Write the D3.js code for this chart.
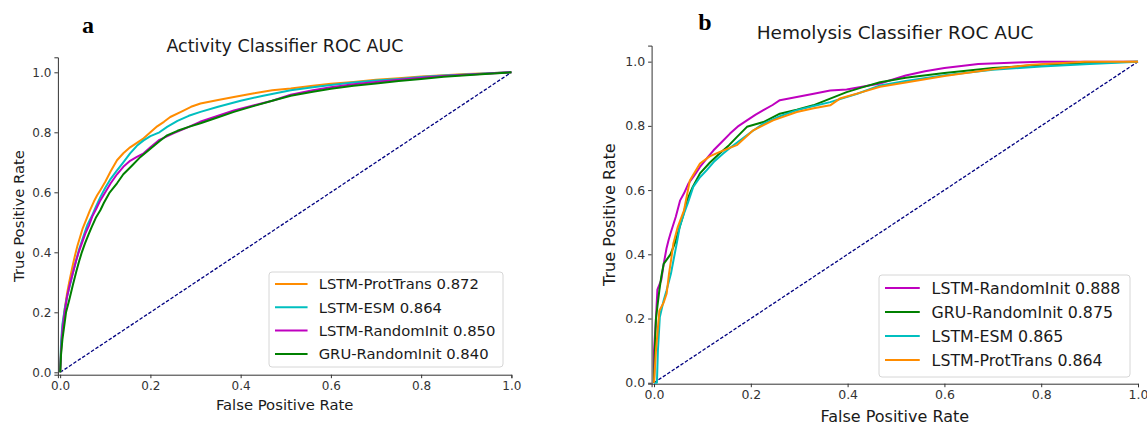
<!DOCTYPE html>
<html>
<head>
<meta charset="utf-8">
<script src="https://cdn.jsdelivr.net/npm/d3@7/dist/d3.min.js"></script>
<style>
  body { margin: 0; background: #fff; }
  svg { display: block; font-family: "DejaVu Sans", sans-serif; }
</style>
</head>
<body>
<div id="chart"></div>
<script>
/* global d3 */

// Tick values shared by both panels
const tickValues = [0, 0.2, 0.4, 0.6, 0.8, 1.0];

// Panel a: Activity classifier (legend order)
const activityNames = ["LSTM-ProtTrans", "LSTM-ESM", "LSTM-RandomInit", "GRU-RandomInit"];
const activityAuc = ["0.872", "0.864", "0.850", "0.840"];

const activityProtTrans = [[0,0],[0.002,0.08],[0.005,0.15],[0.01,0.21],[0.015,0.26],[0.02,0.30],[0.027,0.35],[0.033,0.39],[0.038,0.42],[0.044,0.45],[0.05,0.48],[0.058,0.51],[0.066,0.54],[0.075,0.57],[0.082,0.59],[0.089,0.607],[0.1,0.635],[0.112,0.67],[0.126,0.707],[0.14,0.73],[0.155,0.75],[0.17,0.765],[0.185,0.78],[0.2,0.80],[0.215,0.82],[0.23,0.835],[0.244,0.851],[0.27,0.87],[0.29,0.885],[0.311,0.896],[0.35,0.908],[0.385,0.918],[0.43,0.93],[0.47,0.94],[0.511,0.946],[0.56,0.955],[0.6,0.962],[0.65,0.968],[0.7,0.975],[0.75,0.98],[0.8,0.986],[0.85,0.99],[0.9,0.994],[0.95,0.997],[1,1]];
const activityEsm = [[0,0],[0.002,0.1],[0.005,0.16],[0.01,0.21],[0.015,0.25],[0.02,0.28],[0.028,0.33],[0.035,0.37],[0.042,0.41],[0.052,0.455],[0.06,0.49],[0.07,0.52],[0.08,0.555],[0.089,0.584],[0.1,0.615],[0.112,0.645],[0.126,0.673],[0.14,0.70],[0.155,0.73],[0.17,0.755],[0.185,0.773],[0.2,0.787],[0.22,0.80],[0.237,0.818],[0.26,0.838],[0.285,0.855],[0.311,0.868],[0.35,0.885],[0.4,0.905],[0.45,0.922],[0.511,0.94],[0.56,0.95],[0.6,0.958],[0.65,0.966],[0.7,0.973],[0.75,0.978],[0.8,0.984],[0.85,0.989],[0.9,0.993],[0.95,0.997],[1,1]];
const activityLstmRandom = [[0,0],[0.002,0.07],[0.005,0.14],[0.01,0.2],[0.015,0.25],[0.021,0.29],[0.028,0.33],[0.035,0.37],[0.041,0.40],[0.048,0.43],[0.056,0.463],[0.064,0.49],[0.071,0.519],[0.08,0.545],[0.089,0.573],[0.1,0.6],[0.112,0.63],[0.126,0.66],[0.14,0.685],[0.155,0.705],[0.17,0.718],[0.185,0.73],[0.2,0.75],[0.22,0.775],[0.252,0.797],[0.28,0.815],[0.31,0.835],[0.35,0.855],[0.385,0.873],[0.43,0.89],[0.47,0.905],[0.511,0.925],[0.56,0.94],[0.6,0.95],[0.65,0.96],[0.7,0.968],[0.75,0.975],[0.8,0.982],[0.85,0.988],[0.9,0.992],[0.95,0.996],[1,1]];
const activityGruRandom = [[0,0],[0.002,0.06],[0.005,0.11],[0.0095,0.16],[0.013,0.2],[0.02,0.24],[0.028,0.29],[0.0365,0.34],[0.042,0.37],[0.048,0.4],[0.055,0.43],[0.063,0.46],[0.07,0.485],[0.079,0.515],[0.089,0.54],[0.097,0.565],[0.11,0.6],[0.126,0.63],[0.14,0.66],[0.16,0.69],[0.178,0.718],[0.2,0.745],[0.22,0.77],[0.237,0.79],[0.26,0.805],[0.285,0.818],[0.311,0.83],[0.35,0.85],[0.385,0.868],[0.43,0.888],[0.47,0.905],[0.511,0.922],[0.56,0.935],[0.6,0.945],[0.65,0.955],[0.7,0.963],[0.75,0.971],[0.8,0.978],[0.85,0.985],[0.9,0.99],[0.95,0.995],[1,1]];

// Panel b: Hemolysis classifier (legend order)
const hemolysisNames = ["LSTM-RandomInit", "GRU-RandomInit", "LSTM-ESM", "LSTM-ProtTrans"];
const hemolysisAuc = ["0.888", "0.875", "0.865", "0.864"];

const hemolysisLstmRandom = [[0,0],[0,0.1],[0.004,0.2],[0.007,0.29],[0.015,0.32],[0.02,0.37],[0.026,0.42],[0.03,0.444],[0.034,0.465],[0.045,0.517],[0.054,0.568],[0.062,0.59],[0.071,0.62],[0.083,0.645],[0.095,0.672],[0.11,0.7],[0.123,0.724],[0.14,0.75],[0.157,0.776],[0.175,0.8],[0.192,0.817],[0.21,0.835],[0.226,0.849],[0.245,0.865],[0.26,0.88],[0.295,0.89],[0.33,0.9],[0.364,0.91],[0.398,0.913],[0.43,0.922],[0.467,0.932],[0.52,0.957],[0.56,0.97],[0.6,0.98],[0.67,0.993],[0.75,0.997],[0.8,1.0],[1,1]];
const hemolysisGruRandom = [[0,0],[0.002,0.12],[0.004,0.2],[0.008,0.25],[0.011,0.288],[0.015,0.33],[0.02,0.37],[0.027,0.385],[0.034,0.40],[0.043,0.434],[0.053,0.485],[0.06,0.52],[0.068,0.568],[0.08,0.61],[0.095,0.652],[0.115,0.685],[0.136,0.715],[0.155,0.74],[0.171,0.765],[0.192,0.797],[0.226,0.812],[0.26,0.838],[0.295,0.85],[0.329,0.864],[0.364,0.885],[0.398,0.905],[0.43,0.92],[0.467,0.936],[0.52,0.95],[0.6,0.965],[0.7,0.98],[0.8,0.99],[0.9,0.997],[1,1]];
const hemolysisEsm = [[0,0],[0.006,0.0],[0.008,0.1],[0.012,0.205],[0.02,0.257],[0.026,0.288],[0.035,0.34],[0.04,0.38],[0.047,0.434],[0.053,0.485],[0.062,0.527],[0.07,0.56],[0.081,0.61],[0.095,0.64],[0.109,0.662],[0.125,0.69],[0.143,0.714],[0.16,0.735],[0.178,0.755],[0.2,0.78],[0.226,0.807],[0.26,0.83],[0.295,0.849],[0.33,0.862],[0.364,0.874],[0.42,0.9],[0.467,0.926],[0.52,0.94],[0.6,0.958],[0.7,0.975],[0.8,0.985],[0.9,0.993],[1,1]];
const hemolysisProtTrans = [[0,0],[0.002,0.05],[0.004,0.1],[0.008,0.17],[0.011,0.224],[0.02,0.25],[0.026,0.277],[0.031,0.34],[0.036,0.39],[0.04,0.434],[0.049,0.485],[0.062,0.537],[0.074,0.63],[0.095,0.683],[0.115,0.705],[0.136,0.719],[0.171,0.74],[0.205,0.786],[0.246,0.817],[0.295,0.843],[0.33,0.855],[0.364,0.864],[0.384,0.885],[0.43,0.905],[0.467,0.922],[0.52,0.935],[0.6,0.955],[0.707,0.978],[0.78,0.99],[0.89,1.0],[1,1]];

const diagonal = [[0,0],[1,1]];

// Colours per model name
const modelColors = {
    "LSTM-ProtTrans": "#ff8c00",
    "LSTM-ESM": "#00bfbf",
    "LSTM-RandomInit": "#bf00bf",
    "GRU-RandomInit": "#008000"
};

// Layout of the two panels (pixels)
const panels = [
    {
        letter: "a", letterX: 88, letterY: 33,
        title: "Activity Classifier ROC AUC", titleX: 285, titleY: 52, titleSize: 17.5,
        xRange: [57.9, 511.4], yRange: [374.7, 57.3], yMin: -0.008,
        tickSize: 12, labelSize: 14.8,
        xLabelY: 410, yLabelX: 24,
        names: activityNames, auc: activityAuc,
        curves: [activityProtTrans, activityEsm, activityLstmRandom, activityGruRandom],
        legend: { x: 269, y: 272, w: 234, h: 95, rowY: 284, rowStep: 23.3, fontSize: 14.8 }
    },
    {
        letter: "b", letterX: 705, letterY: 30,
        title: "Hemolysis Classifier ROC AUC", titleX: 895, titleY: 39, titleSize: 18.5,
        xRange: [651.6, 1138], yRange: [383.7, 45.6], yMin: -0.003,
        tickSize: 12.5, labelSize: 16,
        xLabelY: 422, yLabelX: 615,
        names: hemolysisNames, auc: hemolysisAuc,
        curves: [hemolysisLstmRandom, hemolysisGruRandom, hemolysisEsm, hemolysisProtTrans],
        legend: { x: 879, y: 275, w: 251, h: 102, rowY: 288, rowStep: 24, fontSize: 15.8 }
    }
];

const width = 1147;
const height = 425;

const svg = d3.select("#chart")
    .append("svg")
    .attr("width", width)
    .attr("height", height);

panels.forEach(p => drawPanel(p));

function drawPanel(p) {
    const x = d3.scaleLinear().domain([-0.005, 1]).range(p.xRange);
    const y = d3.scaleLinear().domain([p.yMin, 1.05]).range(p.yRange);
    const g = svg.append("g");

    // Panel letter
    g.append("text")
        .attr("x", p.letterX)
        .attr("y", p.letterY)
        .attr("text-anchor", "middle")
        .attr("font-family", "'Liberation Serif', 'Times New Roman', serif")
        .attr("font-weight", "bold")
        .attr("font-size", "24px")
        .attr("fill", "#000")
        .text(p.letter);

    // Title
    g.append("text")
        .attr("x", p.titleX)
        .attr("y", p.titleY)
        .attr("text-anchor", "middle")
        .attr("font-size", p.titleSize + "px")
        .attr("fill", "#1a1a1a")
        .text(p.title);

    // Axes
    const xAxis = d3.axisBottom(x).tickValues(tickValues)
        .tickFormat(d3.format(".1f")).tickSizeOuter(0).tickSize(3.5).tickPadding(3);
    const yAxis = d3.axisLeft(y).tickValues(tickValues)
        .tickFormat(d3.format(".1f")).tickSizeOuter(0).tickSize(3.5).tickPadding(3);

    const gx = g.append("g")
        .attr("transform", `translate(0,${p.yRange[0]})`)
        .call(xAxis);
    const gy = g.append("g")
        .attr("transform", `translate(${p.xRange[0]},0)`)
        .call(yAxis);

    [gx, gy].forEach(a => {
        a.selectAll("path, line").attr("stroke", "#333").attr("stroke-width", 1);
        a.selectAll("text")
            .attr("font-family", "'DejaVu Sans', sans-serif")
            .attr("font-size", p.tickSize + "px")
            .attr("fill", "#333");
    });

    // Axis labels, centred on the axes
    g.append("text")
        .attr("x", (p.xRange[0] + p.xRange[1]) / 2)
        .attr("y", p.xLabelY)
        .attr("text-anchor", "middle")
        .attr("font-size", p.labelSize + "px")
        .attr("fill", "#1a1a1a")
        .text("False Positive Rate");

    g.append("text")
        .attr("transform", `translate(${p.yLabelX},${(p.yRange[0] + p.yRange[1]) / 2}) rotate(-90)`)
        .attr("text-anchor", "middle")
        .attr("font-size", p.labelSize + "px")
        .attr("fill", "#1a1a1a")
        .text("True Positive Rate");

    const line = d3.line()
        .x(d => x(d[0]))
        .y(d => y(d[1]));

    // Diagonal chance line
    g.append("path")
        .datum(diagonal)
        .attr("fill", "none")
        .attr("stroke", "#000080")
        .attr("stroke-width", 1.3)
        .attr("stroke-dasharray", "3.5,1.8")
        .attr("d", line);

    // ROC curves
    p.curves.forEach((c, i) => {
        g.append("path")
            .datum(c)
            .attr("fill", "none")
            .attr("stroke", modelColors[p.names[i]])
            .attr("stroke-width", 2)
            .attr("stroke-linejoin", "round")
            .attr("d", line);
    });

    // Legend
    const L = p.legend;
    const lg = g.append("g");
    lg.append("rect")
        .attr("x", L.x)
        .attr("y", L.y)
        .attr("width", L.w)
        .attr("height", L.h)
        .attr("rx", 3)
        .attr("fill", "#fff")
        .attr("fill-opacity", 0.85)
        .attr("stroke", "#d6d6d6")
        .attr("stroke-width", 1);

    p.names.forEach((name, i) => {
        const ry = L.rowY + i * L.rowStep;
        lg.append("line")
            .attr("x1", L.x + 6)
            .attr("x2", L.x + 6 + L.fontSize * 2.2)
            .attr("y1", ry)
            .attr("y2", ry)
            .attr("stroke", modelColors[name])
            .attr("stroke-width", 2);
        lg.append("text")
            .attr("x", L.x + 6 + L.fontSize * 2.95)
            .attr("y", ry)
            .attr("dy", "0.36em")
            .attr("font-size", L.fontSize + "px")
            .attr("fill", "#1a1a1a")
            .text(`${name} ${p.auc[i]}`);
    });
}
</script>
</body>
</html>
